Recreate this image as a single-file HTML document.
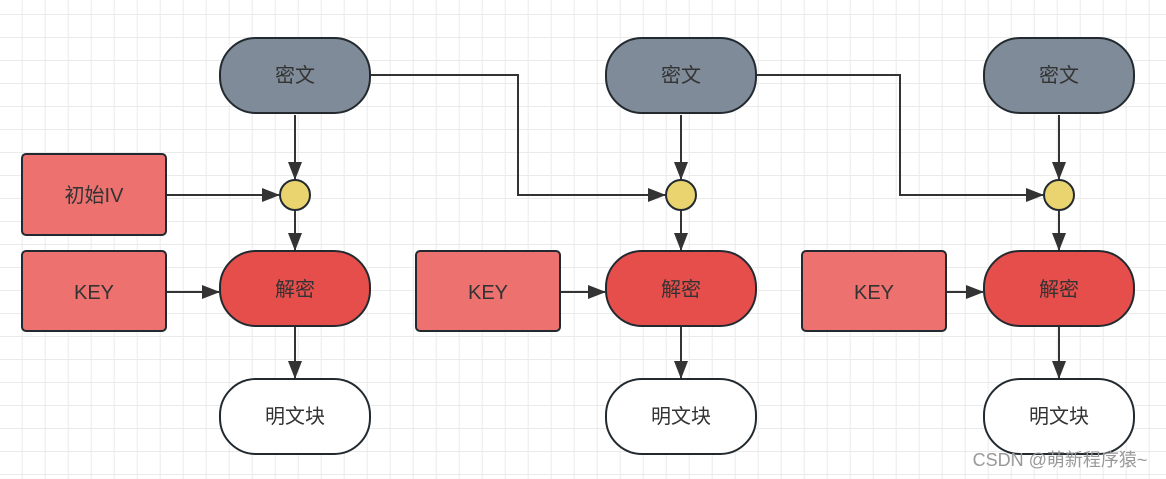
<!DOCTYPE html>
<html><head><meta charset="utf-8"><style>
html,body{margin:0;padding:0;background:#fff;}
svg{display:block}
text{font-family:"Liberation Sans","Noto Sans CJK SC",sans-serif;font-size:20px;fill:#333;text-anchor:middle;dominant-baseline:central}
</style></head><body>
<svg width="1166" height="479" viewBox="0 0 1166 479" xmlns="http://www.w3.org/2000/svg">
<defs>
<pattern id="g" x="-1.3" y="14" width="23" height="23" patternUnits="userSpaceOnUse">
<path d="M0 0.5H23M0.5 0V23" stroke="#ebebeb" stroke-width="1" fill="none"/>
</pattern>
<marker id="a" markerWidth="18" markerHeight="14" refX="17" refY="7" orient="auto" markerUnits="userSpaceOnUse">
<path d="M0 0L18 7L0 14Z" fill="#333"/>
</marker>
</defs>
<rect width="1166" height="479" fill="url(#g)"/>
<g stroke="#333" stroke-width="2" fill="none">
<path d="M295 115V179" marker-end="url(#a)"/>
<path d="M295 211V250" marker-end="url(#a)"/>
<path d="M295 327V378" marker-end="url(#a)"/>
<path d="M167 195H279" marker-end="url(#a)"/>
<path d="M167 292H219" marker-end="url(#a)"/>
<path d="M371 75H518V195H665" marker-end="url(#a)"/>
<path d="M681 115V179" marker-end="url(#a)"/>
<path d="M681 211V250" marker-end="url(#a)"/>
<path d="M681 327V378" marker-end="url(#a)"/>
<path d="M561 292H605" marker-end="url(#a)"/>
<path d="M757 75H900V195H1043" marker-end="url(#a)"/>
<path d="M1059 115V179" marker-end="url(#a)"/>
<path d="M1059 211V250" marker-end="url(#a)"/>
<path d="M1059 327V378" marker-end="url(#a)"/>
<path d="M947 292H983" marker-end="url(#a)"/>
</g>
<g stroke="#222a30" stroke-width="2">
<rect x="220" y="38" width="150" height="75" rx="36" fill="#7f8b98"/>
<rect x="606" y="38" width="150" height="75" rx="36" fill="#7f8b98"/>
<rect x="984" y="38" width="150" height="75" rx="36" fill="#7f8b98"/>
<rect x="22" y="154" width="144" height="81" rx="4" fill="#ec716f"/>
<rect x="22" y="251" width="144" height="80" rx="4" fill="#ec716f"/>
<rect x="416" y="251" width="144" height="80" rx="4" fill="#ec716f"/>
<rect x="802" y="251" width="144" height="80" rx="4" fill="#ec716f"/>
<circle cx="295" cy="195" r="15" fill="#e9d46f"/>
<circle cx="681" cy="195" r="15" fill="#e9d46f"/>
<circle cx="1059" cy="195" r="15" fill="#e9d46f"/>
<rect x="220" y="251" width="150" height="75" rx="36" fill="#e64e4c"/>
<rect x="606" y="251" width="150" height="75" rx="36" fill="#e64e4c"/>
<rect x="984" y="251" width="150" height="75" rx="36" fill="#e64e4c"/>
<rect x="220" y="379" width="150" height="75" rx="36" fill="#fff"/>
<rect x="606" y="379" width="150" height="75" rx="36" fill="#fff"/>
<rect x="984" y="379" width="150" height="75" rx="36" fill="#fff"/>
</g>
<text x="295" y="76">密文</text><text x="681" y="76">密文</text><text x="1059" y="76">密文</text>
<text x="94" y="196">初始IV</text>
<text x="94" y="293">KEY</text><text x="488" y="293">KEY</text><text x="874" y="293">KEY</text>
<text x="295" y="290">解密</text><text x="681" y="290">解密</text><text x="1059" y="290">解密</text>
<text x="295" y="417">明文块</text><text x="681" y="417">明文块</text><text x="1059" y="417">明文块</text>
<text x="1060" y="460" style="font-size:18px;fill:#999">CSDN @萌新程序猿~</text>
</svg>
</body></html>
